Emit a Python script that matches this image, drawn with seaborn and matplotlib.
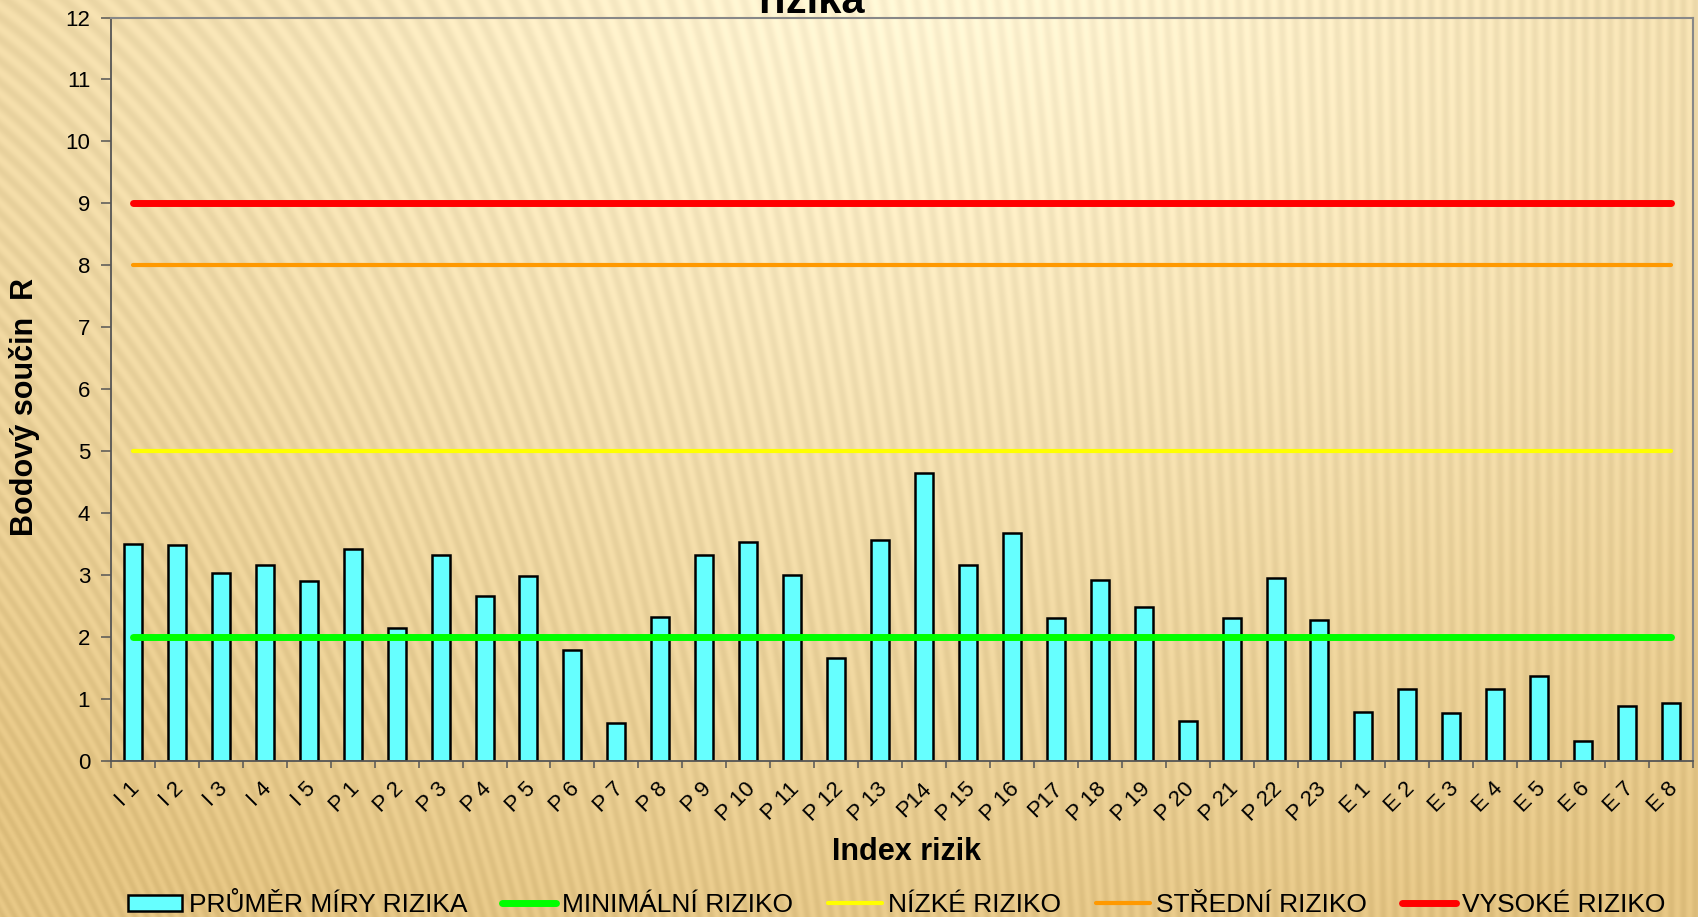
import numpy as np
import pandas as pd
import matplotlib
matplotlib.use('Agg')
import matplotlib.pyplot as plt
from matplotlib.patches import Patch
from matplotlib.lines import Line2D
from matplotlib.transforms import ScaledTranslation
import seaborn as sns

# Index rizik a průměrná míra rizika
rizika = ['I 1', 'I 2', 'I 3', 'I 4', 'I 5',
          'P 1', 'P 2', 'P 3', 'P 4', 'P 5', 'P 6', 'P 7', 'P 8', 'P 9', 'P 10',
          'P 11', 'P 12', 'P 13', 'P14', 'P 15', 'P 16', 'P17', 'P 18', 'P 19',
          'P 20', 'P 21', 'P 22', 'P 23',
          'E 1', 'E 2', 'E 3', 'E 4', 'E 5', 'E 6', 'E 7', 'E 8']
prumer = [3.50, 3.49, 3.03, 3.16, 2.91,
          3.42, 2.14, 3.32, 2.66, 2.98, 1.79, 0.62, 2.32, 3.32, 3.54,
          3.01, 1.67, 3.57, 4.65, 3.17, 3.68, 2.31, 2.92, 2.48,
          0.65, 2.31, 2.95, 2.28,
          0.79, 1.17, 0.77, 1.16, 1.37, 0.33, 0.88, 0.94]

# hranice úrovní rizika
urovne = ['MINIMÁLNÍ RIZIKO', 'NÍZKÉ RIZIKO', 'STŘEDNÍ RIZIKO', 'VYSOKÉ RIZIKO']
hranice = [2, 5, 8, 9]
barvy = ['#00ff00', '#ffff00', '#ff9900', '#ff0000']
tloustky = [5, 3, 3, 5]

sns.set_theme(style='ticks')
plt.rcParams['font.family'] = ['Liberation Sans', 'DejaVu Sans']
plt.rcParams['text.color'] = 'black'
plt.rcParams['axes.labelcolor'] = 'black'
plt.rcParams['xtick.color'] = 'black'
plt.rcParams['ytick.color'] = 'black'

W, H = 1698, 917
fig = plt.figure(figsize=(W / 100, H / 100), dpi=100)

# pozadí - zlatavý přechod s jemnými proužky
bg = fig.add_axes([0, 0, 1, 1], zorder=-10)
yy, xx = np.mgrid[0:H, 0:W].astype(float)
d = np.hypot((xx - 0.55 * W) / W, (yy + 0.1 * H) / H * 0.8)
t = np.clip((d - 0.1) / 0.85, 0, 1)
light = np.array([255, 244, 210]) / 255
dark = np.array([226, 194, 128]) / 255
img = light + (dark - light) * t[..., None]
tilt = 0.55 * (1 - xx / W) ** 2
pruhy = 0.025 * np.sin(2 * np.pi * (xx + tilt * (H - yy)) / 12)
img = np.clip(img - pruhy[..., None], 0, 1)
bg.imshow(img, aspect='auto')
bg.axis('off')

ax = fig.add_axes([111 / W, 1 - 761 / H, (1693 - 111) / W, (761 - 17.5) / H])
ax.set_facecolor('none')

df = pd.DataFrame({'riziko': rizika, 'prumer': prumer})
sns.barplot(data=df, x='riziko', y='prumer', color='#66ffff', edgecolor='black',
            linewidth=1.8, width=0.41, saturation=1, ax=ax, zorder=2)

for u, h, c, lw in zip(urovne, hranice, barvy, tloustky):
    sns.lineplot(x=rizika, y=[h] * len(rizika), color=c, linewidth=lw,
                 solid_capstyle='round', sort=False, estimator=None, ax=ax, zorder=3)

ax.set_xlim(-0.5, len(rizika) - 0.5)
ax.set_ylim(0, 12)
ax.set_yticks(range(0, 13))
ax.tick_params(axis='y', length=7, width=1.1, pad=8, labelsize=16, color='#555555')
ax.set_xticks(np.arange(len(rizika) + 1) - 0.5, minor=True)
ax.tick_params(axis='x', which='major', length=0, pad=18, labelsize=16)
ax.tick_params(axis='x', which='minor', length=5, width=1.1, color='#555555')
posun = ScaledTranslation(4 / 100, 0, fig.dpi_scale_trans)
for lbl in ax.get_xticklabels():
    lbl.set_rotation(45)
    lbl.set_ha('right')
    lbl.set_va('center')
    lbl.set_rotation_mode('anchor')
    lbl.set_transform(lbl.get_transform() + posun)

for s in ['left', 'bottom']:
    ax.spines[s].set_color('#555555')
    ax.spines[s].set_linewidth(1.3)
for s in ['top', 'right']:
    ax.spines[s].set_visible(True)
    ax.spines[s].set_color('#888888')
    ax.spines[s].set_linewidth(1.5)

ax.set_xlabel('Index rizik', fontsize=22, fontweight='bold')
ax.xaxis.set_label_coords((906 - 111) / 1582, (761 - 852) / 743.5)
ax.xaxis.label.set_va('center')
ax.set_ylabel('Bodový součin  R', fontsize=22, fontweight='bold')
ax.yaxis.set_label_coords((24 - 111) / 1582, (761 - 407) / 743.5)
ax.yaxis.label.set_va('center')

fig.text(811 / W, 1 - 13 / H, 'rizika', ha='center', va='baseline',
         fontsize=30, fontweight='bold')

handles = [Patch(facecolor='#66ffff', edgecolor='black', linewidth=1.8,
                 label='PRŮMĚR MÍRY RIZIKA')]
for u, c, lw in zip(urovne, barvy, tloustky):
    handles.append(Line2D([], [], color=c, linewidth=lw, solid_capstyle='round', label=u))
fig.legend(handles=handles, loc='center', bbox_to_anchor=(897 / W, 1 - 905 / H),
           ncol=5, frameon=False, fontsize=19, handlelength=2.05, handleheight=0.57,
           handletextpad=0.25, columnspacing=1.3, borderpad=0)

fig.savefig('out.png', dpi=100)
